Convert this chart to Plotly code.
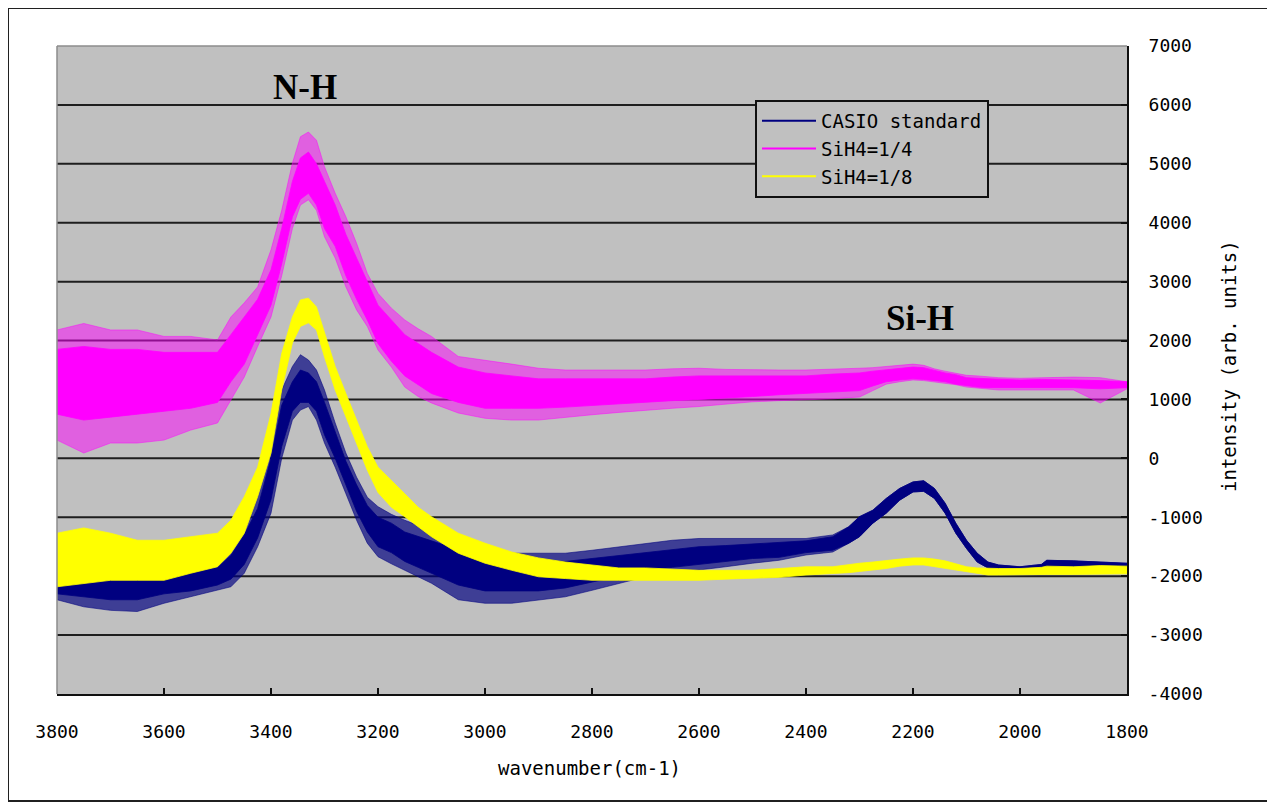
import plotly.graph_objects as go

# ---------------- data ----------------
WAVENUMBER = [3800, 3750, 3700, 3650, 3600, 3550, 3500, 3475, 3450, 3425,
              3400, 3380, 3360, 3345, 3330, 3315, 3300, 3280, 3260, 3240,
              3220, 3200, 3175, 3150, 3125, 3100, 3050, 3000, 2950, 2900,
              2850, 2800, 2750, 2700, 2650, 2600, 2550, 2500, 2450, 2400,
              2350, 2320, 2300, 2275, 2250, 2225, 2200, 2180, 2160, 2140,
              2120, 2100, 2080, 2060, 2040, 2000, 1960, 1950, 1900, 1850, 1800]

# CASIO standard: extent of the noise band (spike tops / bottoms) and its dense core
casio_hi = [-1950, -1900, -1840, -1840, -1780, -1670, -1610, -1390, -1050, -600,
            310, 1160, 1560, 1760, 1670, 1500, 1160, 600, 90, -320,
            -660, -820, -950, -1050, -1140, -1220, -1390, -1560, -1610, -1610,
            -1610, -1560, -1500, -1440, -1390, -1360, -1360, -1360, -1360, -1360,
            -1300, -1160, -990, -880, -680, -510, -400, -380, -510, -760,
            -1100, -1390, -1610, -1760, -1810, -1840, -1800, -1730, -1740, -1760, -1780]
casio_lo = [-2400, -2520, -2580, -2600, -2460, -2350, -2240, -2180, -1950, -1500,
            -930, 0, 650, 820, 880, 650, 260, -150, -600, -1050,
            -1440, -1670, -1790, -1900, -2010, -2120, -2400, -2460, -2460, -2400,
            -2350, -2240, -2120, -2010, -1950, -1900, -1840, -1780, -1730, -1640,
            -1590, -1440, -1330, -1100, -930, -710, -570, -560, -680, -930,
            -1270, -1530, -1760, -1860, -1900, -1920, -1900, -1870, -1870, -1900, -1880]
casio_core_hi = [-2050, -2050, -2050, -2050, -2000, -1950, -1850, -1650, -1300, -850,
                 0, 900, 1300, 1500, 1450, 1300, 950, 450, -50, -450,
                 -800, -1000, -1100, -1250, -1330, -1400, -1550, -1700, -1750, -1750,
                 -1750, -1700, -1650, -1600, -1550, -1500, -1480, -1450, -1420, -1400,
                 -1330, -1160, -990, -880, -680, -510, -400, -380, -510, -760,
                 -1100, -1390, -1610, -1760, -1810, -1840, -1800, -1730, -1740, -1760, -1780]
casio_core_lo = [-2300, -2350, -2400, -2400, -2300, -2250, -2150, -2050, -1800, -1350,
                 -700, 200, 800, 950, 950, 800, 400, 0, -450, -900,
                 -1250, -1500, -1600, -1750, -1850, -1950, -2150, -2250, -2250, -2250,
                 -2200, -2100, -2000, -1900, -1850, -1800, -1750, -1700, -1680, -1600,
                 -1560, -1440, -1330, -1100, -930, -710, -570, -560, -680, -930,
                 -1270, -1530, -1760, -1860, -1900, -1920, -1900, -1870, -1870, -1900, -1880]

# SiH4=1/4
sih4_4_hi = [2180, 2290, 2180, 2180, 2070, 2070, 2010, 2400, 2640, 2910,
             3540, 4210, 5010, 5460, 5540, 5400, 4950, 4500, 4100, 3650,
             3140, 2800, 2550, 2350, 2200, 2070, 1730, 1670, 1600, 1530,
             1500, 1500, 1500, 1500, 1520, 1530, 1510, 1500, 1500, 1500,
             1510, 1520, 1530, 1540, 1560, 1580, 1600, 1580, 1520, 1480,
             1450, 1410, 1400, 1380, 1370, 1360, 1370, 1380, 1380, 1370, 1300]
sih4_4_lo = [310, 90, 260, 260, 310, 480, 600, 1000, 1380, 1900,
             2400, 3100, 3900, 4300, 4390, 4210, 3760, 3400, 2910, 2520,
             2240, 1840, 1550, 1210, 1050, 940, 770, 680, 650, 650,
             700, 740, 780, 820, 850, 880, 920, 960, 980, 990,
             1010, 1030, 1040, 1150, 1260, 1300, 1330, 1320, 1300, 1280,
             1250, 1210, 1190, 1170, 1160, 1160, 1150, 1160, 1160, 940, 1180]
sih4_4_core_hi = [1850, 1900, 1850, 1850, 1800, 1800, 1800, 2100, 2400, 2700,
                  3200, 3900, 4700, 5100, 5200, 5000, 4700, 4300, 3800, 3400,
                  3000, 2600, 2350, 2100, 1950, 1800, 1550, 1450, 1400, 1350,
                  1350, 1350, 1350, 1350, 1380, 1400, 1400, 1400, 1400, 1400,
                  1430, 1440, 1450, 1480, 1500, 1530, 1550, 1540, 1490, 1450,
                  1420, 1370, 1360, 1350, 1340, 1330, 1340, 1340, 1330, 1320, 1300]
sih4_4_core_lo = [750, 650, 700, 750, 800, 850, 950, 1300, 1600, 2100,
                  2600, 3300, 4100, 4400, 4500, 4300, 3900, 3600, 3100, 2700,
                  2350, 1950, 1650, 1400, 1250, 1100, 950, 850, 850, 850,
                  870, 900, 920, 950, 980, 1000, 1020, 1050, 1080, 1100,
                  1120, 1140, 1150, 1230, 1300, 1330, 1350, 1340, 1320, 1300,
                  1260, 1230, 1210, 1200, 1200, 1200, 1190, 1190, 1200, 1180, 1200]

# SiH4=1/8
sih4_8_hi = [-1270, -1180, -1270, -1390, -1390, -1330, -1270, -1050, -650, -150,
             760, 1780, 2400, 2690, 2720, 2570, 2120, 1560, 1100, 650,
             200, -150, -370, -600, -830, -990, -1270, -1440, -1590, -1690,
             -1760, -1810, -1860, -1860, -1880, -1900, -1900, -1900, -1870, -1840,
             -1840, -1800, -1780, -1760, -1730, -1710, -1690, -1690, -1710, -1740,
             -1790, -1840, -1860, -1870, -1870, -1870, -1850, -1830, -1840, -1820, -1830]
sih4_8_lo = [-2180, -2120, -2070, -2070, -2070, -1950, -1840, -1610, -1270, -650,
             90, 1160, 1960, 2240, 2300, 2180, 1720, 1160, 700, 260,
             -200, -580, -830, -990, -1160, -1330, -1610, -1780, -1900, -2010,
             -2040, -2070, -2070, -2070, -2070, -2070, -2050, -2040, -2020, -1980,
             -1960, -1940, -1920, -1900, -1870, -1830, -1810, -1810, -1840, -1870,
             -1900, -1920, -1960, -1980, -1980, -1970, -1970, -1970, -1970, -1970, -1960]

SERIES_NAMES = ["CASIO standard", "SiH4=1/4", "SiH4=1/8"]
X_TICKS = [3800, 3600, 3400, 3200, 3000, 2800, 2600, 2400, 2200, 2000, 1800]
Y_TICKS = [-4000, -3000, -2000, -1000, 0, 1000, 2000, 3000, 4000, 5000, 6000, 7000]
ANNOTATIONS = [("N-H", 3337, 6300), ("Si-H", 2187, 2380)]

# ---------------- styling ----------------
NAVY = "#000080"
MAGENTA = "#FF00FF"
YELLOW = "#FFFF00"
PLOT_BG = "#C0C0C0"
FONT = "DejaVu Sans Mono"

# page coordinates of the plot area (the page body has an 8 px margin)
PX_L, PX_R, PX_T, PX_B = 57, 1127, 46, 694
PW, PH = PX_R - PX_L, PX_B - PX_T


def paper_x(px):
    return (px - PX_L) / PW


def paper_y(py):
    return (PX_B - py) / PH


fig = go.Figure()


def add_band(lo, hi, color, fillcolor, width=0.8):
    fig.add_trace(go.Scatter(x=WAVENUMBER, y=lo, mode="lines",
                             line=dict(color=color, width=width),
                             showlegend=False, hoverinfo="skip"))
    fig.add_trace(go.Scatter(x=WAVENUMBER, y=hi, mode="lines",
                             line=dict(color=color, width=width),
                             fill="tonexty", fillcolor=fillcolor,
                             showlegend=False, hoverinfo="skip"))


add_band(casio_lo, casio_hi, "rgba(0,0,128,0.7)", "rgba(0,0,128,0.68)")
add_band(casio_core_lo, casio_core_hi, NAVY, NAVY)
add_band(sih4_4_lo, sih4_4_hi, "rgba(255,0,255,0.6)", "rgba(255,0,255,0.5)")
add_band(sih4_4_core_lo, sih4_4_core_hi, MAGENTA, MAGENTA)
add_band(sih4_8_lo, sih4_8_hi, YELLOW, YELLOW)

# legend entries
for i, (name, color) in enumerate(zip(SERIES_NAMES, [NAVY, MAGENTA, YELLOW])):
    fig.add_trace(go.Scatter(x=[None], y=[None], mode="lines", name=name,
                             legendgroup=f"g{i}",
                             line=dict(color=color, width=2)))

shapes = []
# horizontal gridlines at the y ticks (inside the range)
for v in Y_TICKS:
    if Y_TICKS[0] < v < Y_TICKS[-1]:
        shapes.append(dict(type="line", xref="paper", x0=0, x1=1, yref="y", y0=v, y1=v,
                           line=dict(color="#1e1e1e", width=2), layer="below"))
# gray top / left plot-area border
shapes.append(dict(type="line", xref="paper", yref="paper", x0=0, x1=1, y0=1, y1=1,
                   line=dict(color="#8c8c8c", width=1.5)))
shapes.append(dict(type="line", xref="paper", yref="paper", x0=0, x1=0, y0=0, y1=1,
                   line=dict(color="#8c8c8c", width=1.5)))
# outer frame
shapes.append(dict(type="rect", xref="paper", yref="paper",
                   x0=paper_x(8), x1=paper_x(1271), y0=paper_y(801), y1=paper_y(8),
                   line=dict(color="#202020", width=2)))

annotations = []
for text, ax_, ay_ in ANNOTATIONS:
    annotations.append(dict(text=f"<b>{text}</b>", x=ax_, y=ay_, xref="x", yref="y",
                            showarrow=False,
                            font=dict(family="Liberation Serif", size=35, color="black")))
annotations.append(dict(text="wavenumber(cm-1)", xref="paper", yref="paper",
                        x=paper_x(589), y=paper_y(768),
                        xanchor="center", yanchor="middle", showarrow=False,
                        font=dict(family=FONT, size=19, color="black")))
annotations.append(dict(text="intensity (arb. units)", xref="paper", yref="paper",
                        x=paper_x(1229), y=paper_y(366), textangle=-90,
                        xanchor="center", yanchor="middle", showarrow=False,
                        font=dict(family=FONT, size=19, color="black")))

FIG_W, FIG_H = 1267, 797
fig.update_layout(
    width=FIG_W, height=FIG_H,
    margin=dict(l=PX_L - 8, r=FIG_W - (PX_R - 8), t=PX_T - 8, b=FIG_H - (PX_B - 8)),
    paper_bgcolor="white", plot_bgcolor=PLOT_BG,
    font=dict(family=FONT, size=18, color="black"),
    showlegend=True,
    legend=dict(x=paper_x(755), y=paper_y(100), xanchor="left", yanchor="top",
                bgcolor=PLOT_BG, bordercolor="#101010", borderwidth=2,
                font=dict(family=FONT, size=19, color="black"),
                traceorder="normal", itemwidth=54, tracegroupgap=5),
    shapes=shapes,
    annotations=annotations,
    xaxis=dict(range=[3800, 1800], tickvals=X_TICKS, ticktext=[str(t) for t in X_TICKS],
               showgrid=False, zeroline=False, showline=True, linecolor="#101010",
               linewidth=2, ticks="inside", ticklen=6, tickwidth=2, tickcolor="#101010",
               ticklabelstandoff=20, tickfont=dict(family=FONT, size=18)),
    yaxis=dict(range=[-4000, 7000], tickvals=Y_TICKS, ticktext=[str(t) for t in Y_TICKS],
               side="right", showgrid=False, zeroline=False, showline=True,
               linecolor="#101010", linewidth=2, ticks="inside", ticklen=6, tickwidth=2,
               tickcolor="#101010", ticklabelstandoff=16,
               tickfont=dict(family=FONT, size=18)),
)

fig.write_html("out.html")
